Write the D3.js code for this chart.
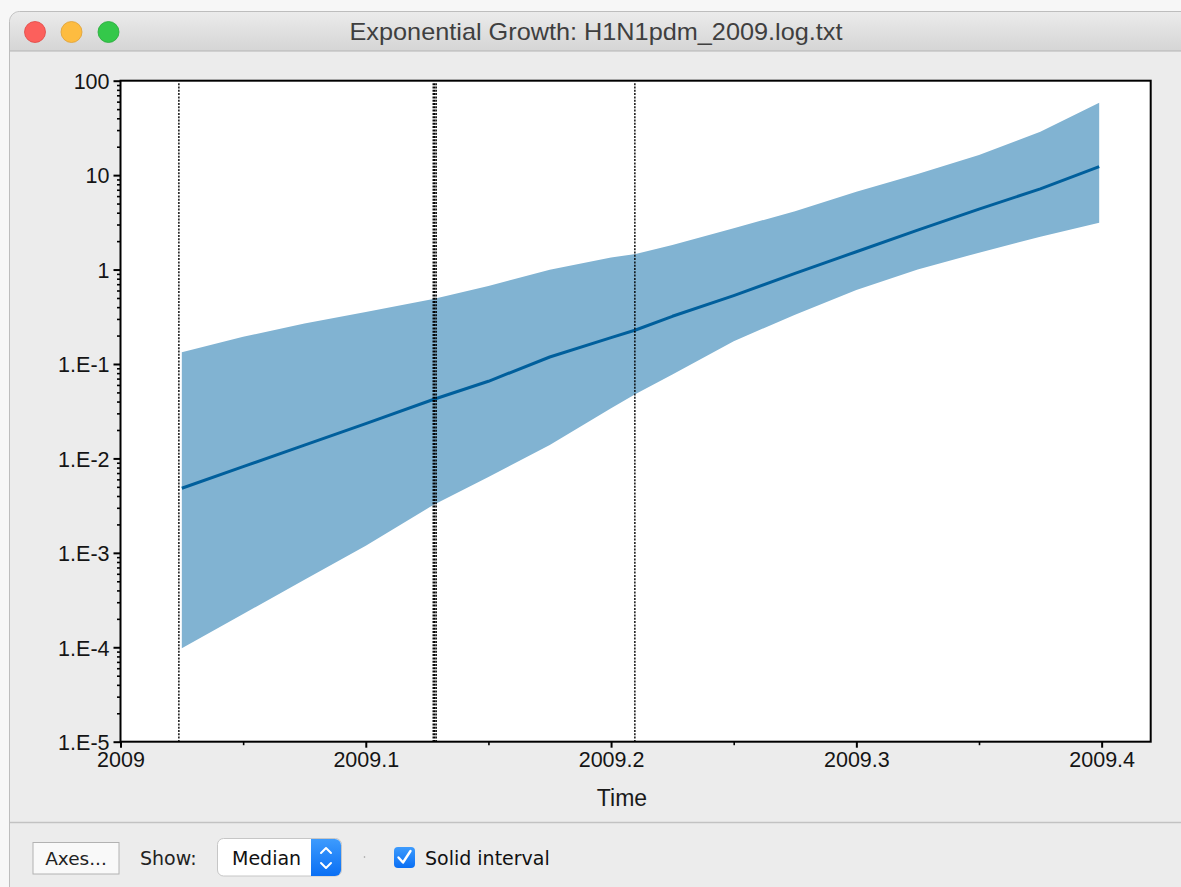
<!DOCTYPE html>
<html>
<head>
<meta charset="utf-8">
<script src="https://cdn.jsdelivr.net/npm/d3@7"></script>
<style>
  html, body { margin: 0; padding: 0; background: #f7f7f7; }
  svg { display: block; }
  .tick text { font-family: "Liberation Sans", Arial, sans-serif; fill: #151515; }
</style>
</head>
<body>
<svg id="chart" width="1181" height="887"></svg>
<script>
// Exponential growth of H1N1pdm 2009: posterior median and 95% interval over time
const timePoints = [2009.025, 2009.05, 2009.075, 2009.1, 2009.1275, 2009.15, 2009.175, 2009.2,
                    2009.21, 2009.225, 2009.25, 2009.275, 2009.3, 2009.325, 2009.35, 2009.375, 2009.399];
const upperValues = [0.133, 0.194, 0.268, 0.355, 0.488, 0.668, 0.997, 1.34,
                     1.46, 1.82, 2.74, 4.14, 6.68, 10.3, 16.3, 28.8, 58.5];
const medianValues = [0.00483, 0.00817, 0.0138, 0.0234, 0.0421, 0.0656, 0.1186, 0.190,
                      0.229, 0.320, 0.530, 0.910, 1.545, 2.62, 4.36, 7.15, 12.28];
const lowerValues = [9.75e-5, 2.25e-4, 5.19e-4, 1.19e-3, 3.21e-3, 6.34e-3, 0.0139, 0.0340,
                     0.0481, 0.0773, 0.174, 0.333, 0.608, 1.00, 1.51, 2.23, 3.13];

// Dates marked with dotted vertical lines
const markerTimes = [2009.0238, 2009.1275, 2009.1281, 2009.1287, 2009.2097];

// Axis ticks
const yTickValues = [1e-5, 1e-4, 1e-3, 1e-2, 1e-1, 1, 10, 100];
const yTickLabels = ["1.E-5", "1.E-4", "1.E-3", "1.E-2", "1.E-1", "1", "10", "100"];
const xTickValues = [2009, 2009.1, 2009.2, 2009.3, 2009.4];
const xTickLabels = ["2009", "2009.1", "2009.2", "2009.3", "2009.4"];
const xMinorTicks = [2009.05, 2009.15, 2009.25, 2009.35];

const windowTitle = "Exponential Growth: H1N1pdm_2009.log.txt";
const xAxisTitle = "Time";

const svg = d3.select("#chart");

// ---- window chrome ----
const defs = svg.append("defs");
const tg = defs.append("linearGradient").attr("id", "titlebar").attr("x1", 0).attr("y1", 0).attr("x2", 0).attr("y2", 1);
tg.append("stop").attr("offset", "0%").attr("stop-color", "#ebebeb");
tg.append("stop").attr("offset", "100%").attr("stop-color", "#d5d5d5");
const bg = defs.append("linearGradient").attr("id", "popupBlue").attr("x1", 0).attr("y1", 0).attr("x2", 0).attr("y2", 1);
bg.append("stop").attr("offset", "0%").attr("stop-color", "#3d9bfd");
bg.append("stop").attr("offset", "100%").attr("stop-color", "#0a6ff4");

svg.append("rect").attr("x", 9.5).attr("y", 11.5).attr("width", 1200).attr("height", 900)
  .attr("rx", 10).attr("fill", "#ececec").attr("stroke", "#bdbdbd");
svg.append("path")
  .attr("d", "M10,51 L10,22 A10,10 0 0 1 20,12 L1181,12 L1181,51 Z")
  .attr("fill", "url(#titlebar)");
svg.append("line").attr("x1", 10).attr("x2", 1181).attr("y1", 51).attr("y2", 51)
  .attr("stroke", "#b4b4b4");

const lights = [
  { cx: 35, fill: "#fc605c", stroke: "#df4744" },
  { cx: 71.5, fill: "#fdbc40", stroke: "#de9f34" },
  { cx: 108.5, fill: "#34c84a", stroke: "#27a93a" }
];
svg.selectAll("circle.light").data(lights).join("circle")
  .attr("class", "light").attr("cx", d => d.cx).attr("cy", 32).attr("r", 10.5)
  .attr("fill", d => d.fill).attr("stroke", d => d.stroke).attr("stroke-width", 0.8);

svg.append("text").attr("x", 596).attr("y", 40).attr("text-anchor", "middle")
  .attr("font-family", "'Liberation Sans', Arial, sans-serif").attr("font-size", 24)
  .attr("textLength", 493).attr("lengthAdjust", "spacingAndGlyphs")
  .attr("fill", "#3f3f3f").text(windowTitle);

// ---- plot ----
const plot = { left: 120.5, top: 80.7, right: 1150.7, bottom: 741.7 };

const x = d3.scaleLinear().domain([2009, 2009.42]).range([plot.left, plot.right]);
const y = d3.scaleLog().domain([1e-5, 100]).range([plot.bottom, plot.top]);

svg.append("rect").attr("x", plot.left).attr("y", plot.top)
  .attr("width", plot.right - plot.left).attr("height", plot.bottom - plot.top)
  .attr("fill", "#ffffff");

const rows = timePoints.map((t, i) => ({ t, lo: lowerValues[i], med: medianValues[i], hi: upperValues[i] }));

const band = d3.area().x(d => x(d.t)).y0(d => y(d.lo)).y1(d => y(d.hi));
svg.append("path").datum(rows).attr("d", band).attr("fill", "#81b3d2");

const medianLine = d3.line().x(d => x(d.t)).y(d => y(d.med));
svg.append("path").datum(rows).attr("d", medianLine)
  .attr("fill", "none").attr("stroke", "#005f9c").attr("stroke-width", 3)
  .attr("stroke-linejoin", "round");

svg.selectAll("line.marker").data(markerTimes).join("line")
  .attr("class", "marker")
  .attr("x1", d => x(d)).attr("x2", d => x(d))
  .attr("y1", plot.top + 2.5).attr("y2", plot.bottom)
  .attr("stroke", "#000").attr("stroke-width", 1.4).attr("stroke-dasharray", "2,1.3");

// frame
svg.append("rect").attr("x", plot.left).attr("y", plot.top)
  .attr("width", plot.right - plot.left).attr("height", plot.bottom - plot.top)
  .attr("fill", "none").attr("stroke", "#000").attr("stroke-width", 2);

// y axis: major + minor log ticks
const yMinor = [];
for (let e = -5; e < 2; e++) for (let m = 2; m <= 9; m++) yMinor.push(m * Math.pow(10, e));

const yAxis = d3.axisLeft(y).tickValues(yTickValues)
  .tickFormat((d, i) => yTickLabels[i]).tickSize(7).tickPadding(4);
const gy = svg.append("g").attr("transform", `translate(${plot.left},0)`).call(yAxis);
gy.select(".domain").remove();
gy.selectAll(".tick line").attr("stroke", "#000").attr("stroke-width", 2);
gy.selectAll(".tick text").attr("font-size", 21.5).attr("dy", "0.36em");

const gyMinor = svg.append("g").attr("transform", `translate(${plot.left},0)`)
  .call(d3.axisLeft(y).tickValues(yMinor).tickFormat("").tickSize(3.5));
gyMinor.select(".domain").remove();
gyMinor.selectAll(".tick line").attr("stroke", "#000").attr("stroke-width", 1.6);

// x axis
const xAxis = d3.axisBottom(x).tickValues(xTickValues)
  .tickFormat((d, i) => xTickLabels[i]).tickSize(6).tickPadding(4);
const gx = svg.append("g").attr("transform", `translate(0,${plot.bottom})`).call(xAxis);
gx.select(".domain").remove();
gx.selectAll(".tick line").attr("stroke", "#000").attr("stroke-width", 2);
gx.selectAll(".tick text").attr("font-size", 21.5).attr("dy", "0.72em");

const gxMinor = svg.append("g").attr("transform", `translate(0,${plot.bottom})`)
  .call(d3.axisBottom(x).tickValues(xMinorTicks).tickFormat("").tickSize(3.5));
gxMinor.select(".domain").remove();
gxMinor.selectAll(".tick line").attr("stroke", "#000").attr("stroke-width", 1.6);

svg.append("text").attr("x", 622).attr("y", 806).attr("text-anchor", "middle")
  .attr("font-family", "'Liberation Sans', Arial, sans-serif").attr("font-size", 23)
  .attr("fill", "#1a1a1a").text(xAxisTitle);

// ---- bottom toolbar ----
svg.append("line").attr("x1", 10).attr("x2", 1181).attr("y1", 822.5).attr("y2", 822.5)
  .attr("stroke", "#c2c2c2").attr("stroke-width", 1.5);

const uiFont = "'DejaVu Sans', Verdana, sans-serif";

svg.append("rect").attr("x", 33).attr("y", 842.5).attr("width", 86).attr("height", 31.5)
  .attr("fill", "#f9f9f9").attr("stroke", "#b2b2b2");
svg.append("text").attr("x", 76).attr("y", 865).attr("text-anchor", "middle")
  .attr("font-family", uiFont).attr("font-size", 18.5).attr("fill", "#222").text("Axes...");

svg.append("text").attr("x", 140).attr("y", 865)
  .attr("font-family", uiFont).attr("font-size", 19).attr("fill", "#222").text("Show:");

svg.append("rect").attr("x", 217.5).attr("y", 838.5).attr("width", 124).attr("height", 37.5)
  .attr("rx", 6).attr("fill", "#ffffff").attr("stroke", "#c6c6c6");
svg.append("path")
  .attr("d", "M311,839 L335,839 A6,6 0 0 1 341,845 L341,870 A6,6 0 0 1 335,876 L311,876 Z")
  .attr("fill", "url(#popupBlue)");
svg.append("path").attr("d", "M321,853 L326,848 L331,853 M321,863 L326,868 L331,863")
  .attr("fill", "none").attr("stroke", "#fff").attr("stroke-width", 2)
  .attr("stroke-linecap", "round").attr("stroke-linejoin", "round");
svg.append("text").attr("x", 232).attr("y", 865)
  .attr("font-family", uiFont).attr("font-size", 19).attr("fill", "#111").text("Median");

svg.append("circle").attr("cx", 364.5).attr("cy", 857).attr("r", 0.8).attr("fill", "#9a9a9a");

svg.append("rect").attr("x", 394).attr("y", 847).attr("width", 21).attr("height", 21)
  .attr("rx", 4).attr("fill", "url(#popupBlue)");
svg.append("path").attr("d", "M398.5,857.5 L403,862.5 L410.5,851")
  .attr("fill", "none").attr("stroke", "#fff").attr("stroke-width", 2.4)
  .attr("stroke-linecap", "round").attr("stroke-linejoin", "round");
svg.append("text").attr("x", 425).attr("y", 865)
  .attr("font-family", uiFont).attr("font-size", 19).attr("fill", "#111").text("Solid interval");
</script>
</body>
</html>
